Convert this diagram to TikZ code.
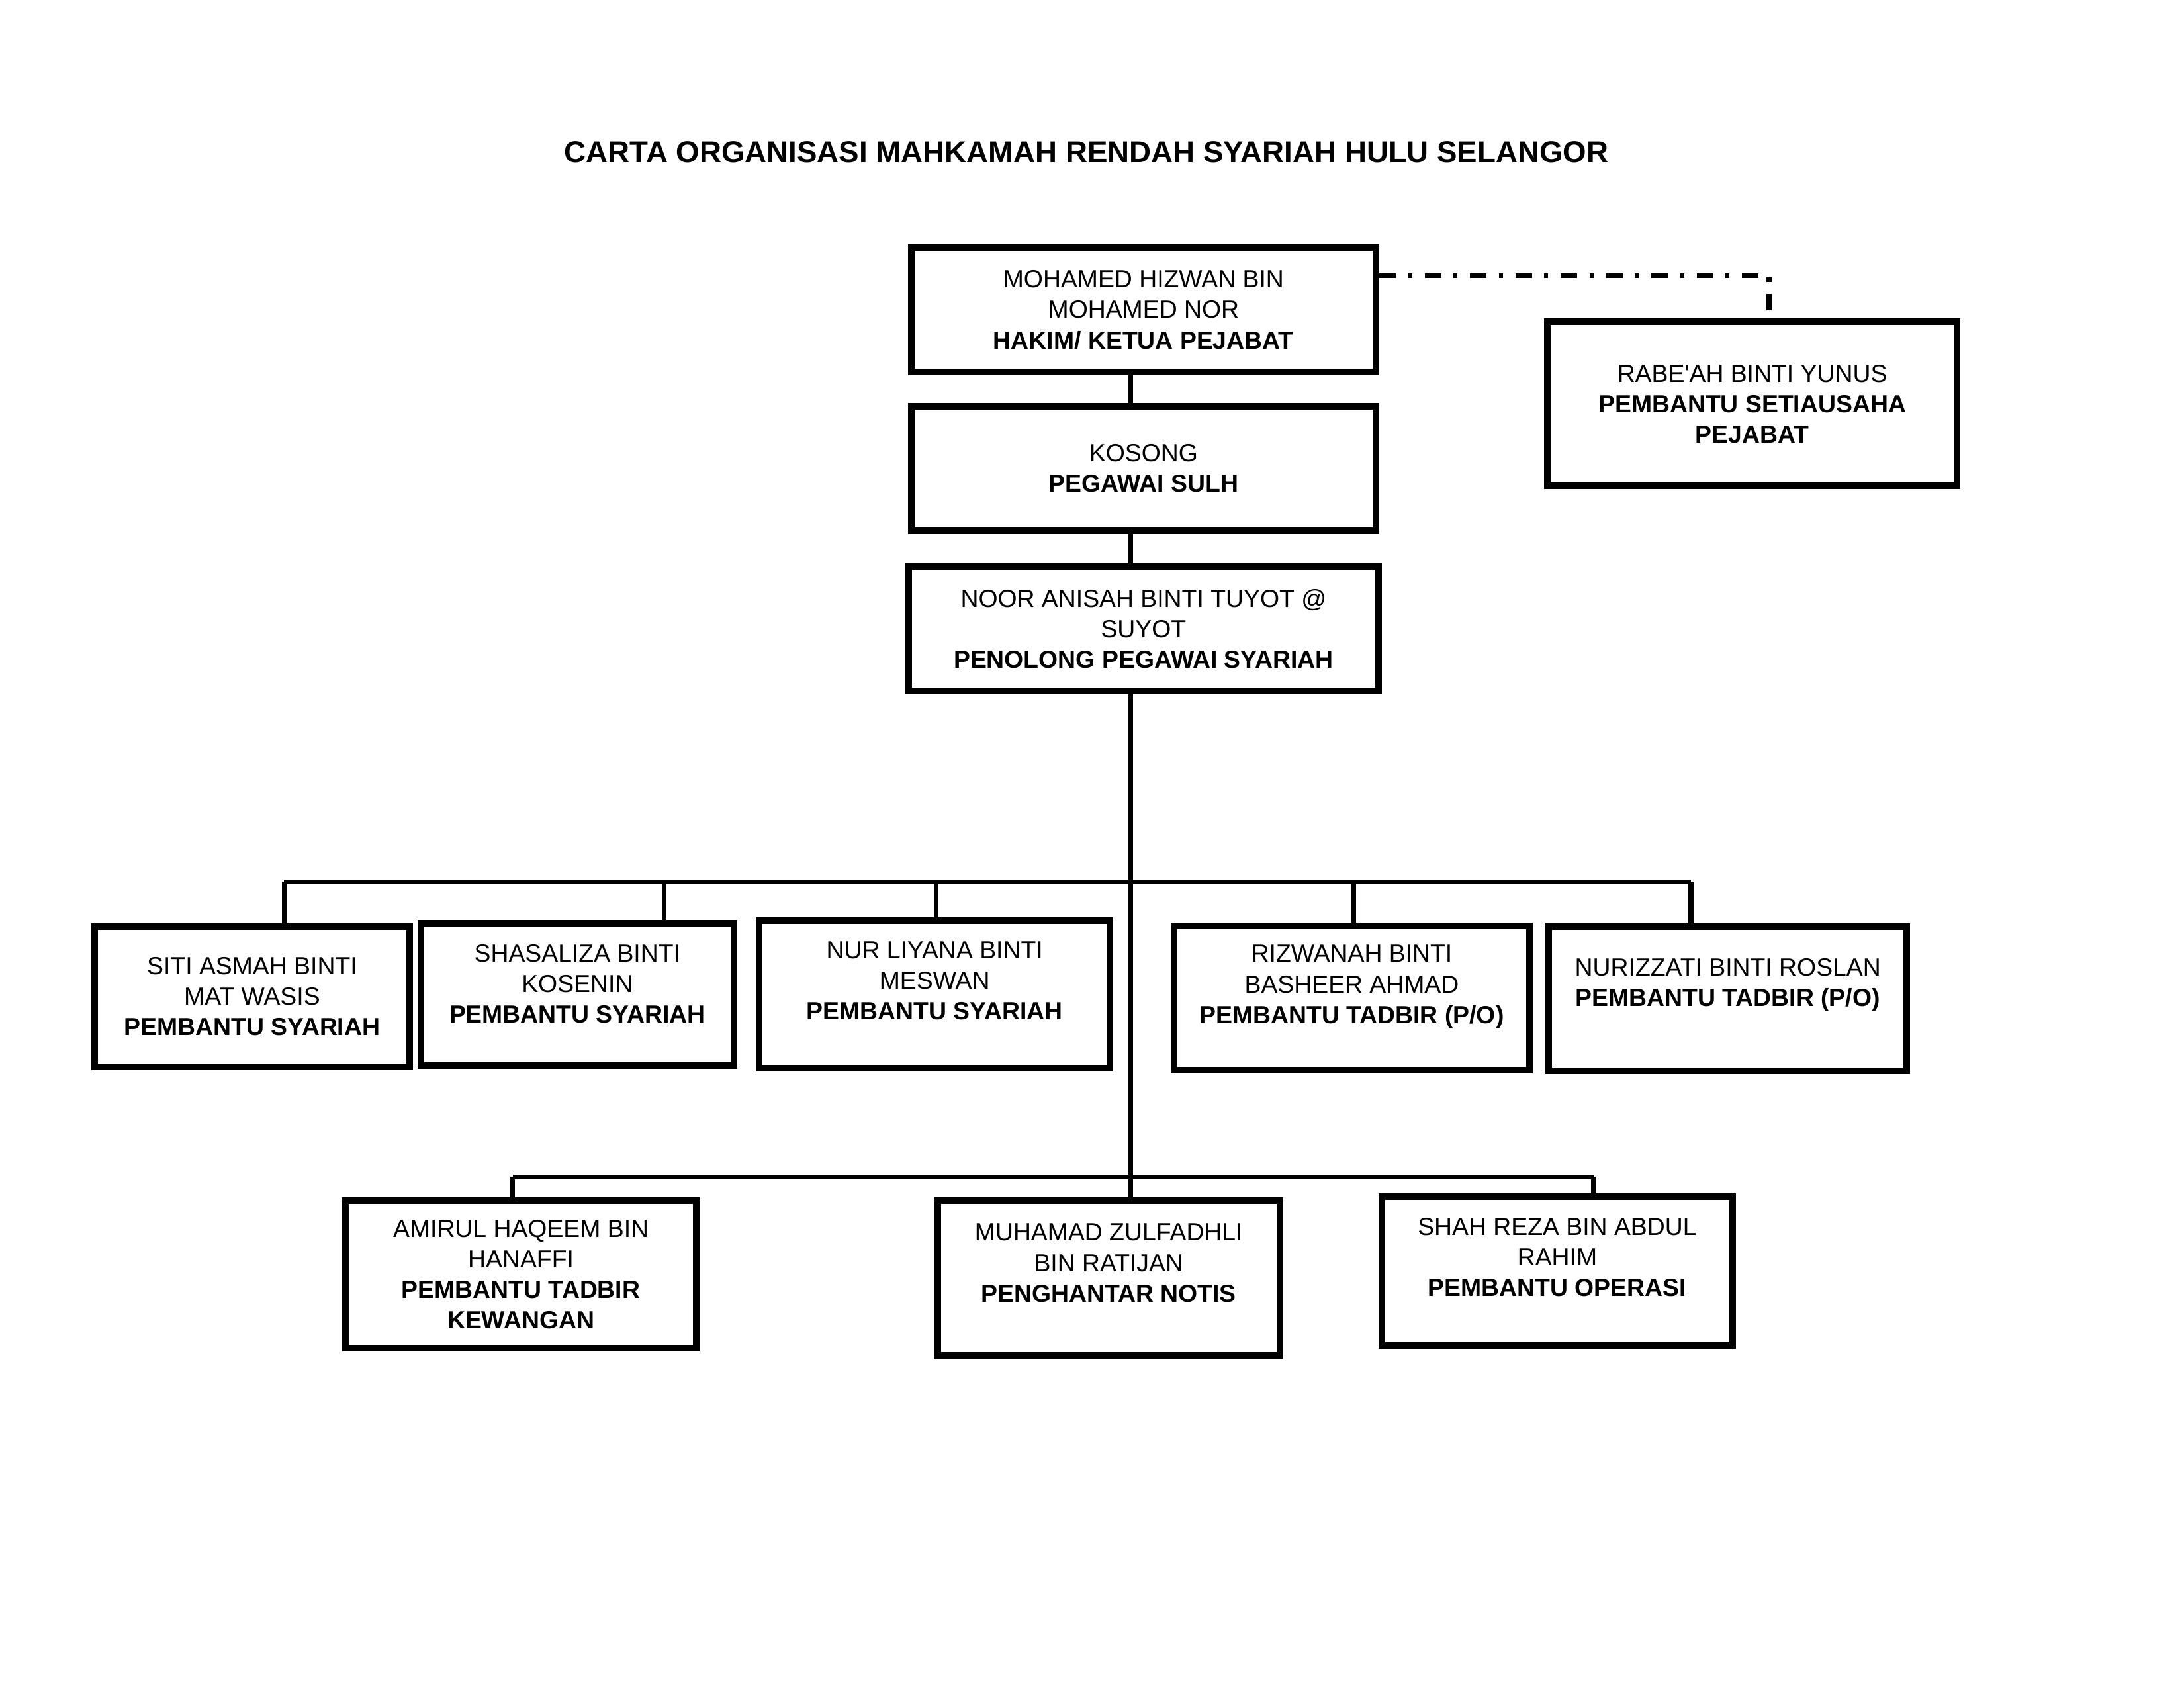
\documentclass[tikz,border=0pt]{standalone}
\usepackage{fontspec}
\setmainfont{Liberation Sans}
\begin{document}
\begin{tikzpicture}[x=0.01782cm, y=-0.01782cm,
    box/.style={draw, line width=2.4pt, align=center, inner sep=2pt, font=\fontsize{9}{11.1}\selectfont},
    link/.style={line width=1.7pt},
    tieline/.style={line width=1.8pt, dash pattern=on 6pt off 4.5pt on 1.5pt off 4.5pt}]
\useasboundingbox (0,0) rectangle (1568,1211);
\node[font=\fontsize{11}{13}\selectfont\bfseries] (T) at (780,109) {CARTA ORGANISASI MAHKAMAH RENDAH SYARIAH HULU SELANGOR};

\node[box, minimum width=5.95cm, minimum height=1.59cm] (H) at (821,222.5) {MOHAMED HIZWAN BIN\\MOHAMED NOR\\\textbf{HAKIM/ KETUA PEJABAT}};
\node[box, minimum width=5.95cm, minimum height=1.59cm, below of=H, node distance=2.03cm] (K) {KOSONG\\\textbf{PEGAWAI SULH}};
\node[box, minimum width=6.01cm, minimum height=1.59cm, below of=K, node distance=2.05cm] (N) {NOOR ANISAH BINTI TUYOT @\\SUYOT\\\textbf{PENOLONG PEGAWAI SYARIAH}};
\node[box, minimum width=5.24cm, minimum height=2.10cm] (R) at (1258,290) {RABE\textquotesingle AH BINTI YUNUS\\\textbf{PEMBANTU SETIAUSAHA}\\\textbf{PEJABAT}};

\node[box, minimum width=4.03cm, minimum height=1.80cm] (S1) at (181,715.5) {SITI ASMAH BINTI\\MAT WASIS\\\textbf{PEMBANTU SYARIAH}};
\node[box, minimum width=4.01cm, minimum height=1.82cm, text depth=8pt] (S2) at (414.5,714) {SHASALIZA BINTI\\KOSENIN\\\textbf{PEMBANTU SYARIAH}};
\node[box, minimum width=4.49cm, minimum height=1.89cm, text depth=10pt] (S3) at (671,714) {NUR LIYANA BINTI\\MESWAN\\\textbf{PEMBANTU SYARIAH}};
\node[box, minimum width=4.54cm, minimum height=1.84cm, text depth=10pt] (T1) at (970.5,716.5) {RIZWANAH BINTI\\BASHEER AHMAD\\\textbf{PEMBANTU TADBIR (P/O)}};
\node[box, minimum width=4.58cm, minimum height=1.85cm, text depth=12pt] (T2) at (1240.5,717) {NURIZZATI BINTI ROSLAN\\\textbf{PEMBANTU TADBIR (P/O)}};

\node[box, minimum width=4.49cm, minimum height=1.89cm] (W) at (374,915) {AMIRUL HAQEEM BIN\\HANAFFI\\\textbf{PEMBANTU TADBIR}\\\textbf{KEWANGAN}};
\node[box, minimum width=4.38cm, minimum height=1.98cm, text depth=11pt] (Z) at (796,917.5) {MUHAMAD ZULFADHLI\\BIN RATIJAN\\\textbf{PENGHANTAR NOTIS}};
\node[box, minimum width=4.49cm, minimum height=1.91cm, text depth=10pt] (O) at (1118,912.5) {SHAH REZA BIN ABDUL\\RAHIM\\\textbf{PEMBANTU OPERASI}};

\coordinate (X) at (812,0);
\coordinate (C) at (1270,198);
\coordinate (U1) at (204,633);
\coordinate (U2) at (477,633);
\coordinate (U3) at (672,633);
\coordinate (U4) at (972,633);
\coordinate (U5) at (1214,633);
\coordinate (V1) at (368,845);
\coordinate (V3) at (1144,845);

\draw[link] (H.south -| X) -- (K.north -| X);
\draw[link] (K.south -| X) -- (N.north -| X);
\draw[link] (N.south -| X) -- (Z.north -| X);
\draw[link] (U1) -- (U5);
\foreach \u/\b in {U1/S1, U2/S2, U3/S3, U4/T1, U5/T2}
    \draw[link] (\u) -- (\u |- \b.north);
\draw[link] (V1) -- (V3);
\draw[link] (V1) -- (V1 |- W.north);
\draw[link] (V3) -- (V3 |- O.north);
\draw[tieline] (H.east |- C) -- (C) -- (C |- R.north);
\end{tikzpicture}
\end{document}
